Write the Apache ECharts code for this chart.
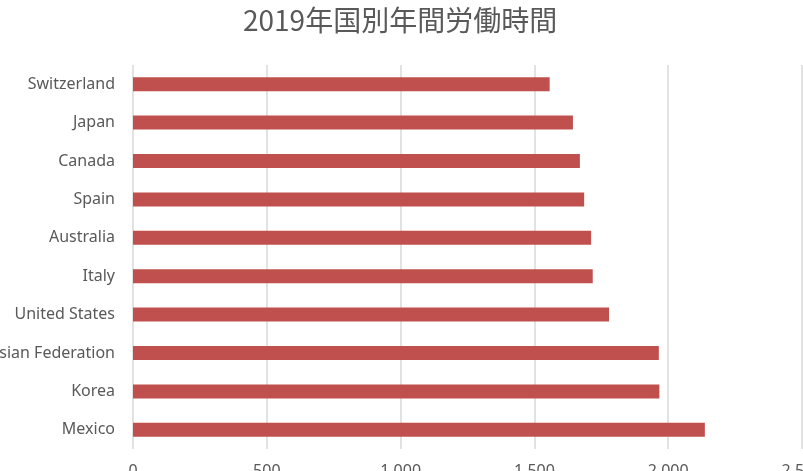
<!DOCTYPE html>
<html><head><meta charset="utf-8">
<script src="https://cdn.jsdelivr.net/npm/echarts@6/dist/echarts.min.js"></script>
<style>html,body{margin:0;padding:0;background:#fff}#c{width:803px;height:471px}</style>
</head><body><div id="c"></div>
<script>
const titleText = '2019年国別年間労働時間';
const countries = ['Switzerland','Japan','Canada','Spain','Australia','Italy','United States','Russian Federation','Korea','Mexico'];
const hours = [1557,1644,1670,1686,1712,1718,1779,1965,1967,2137];
const xTicks = [0,500,1000,1500,2000,2500];

const chart = echarts.init(document.getElementById('c'));
chart.setOption({
  animation:false,
  title:{text:titleText,left:238,top:1,textStyle:{fontFamily:'Noto Sans CJK JP',fontSize:28,fontWeight:'normal',color:'#595959'}},
  grid:{left:133,right:1,top:65,bottom:22,containLabel:false,outerBoundsMode:'none'},
  xAxis:{type:'value',min:xTicks[0],max:xTicks[xTicks.length-1],interval:xTicks[1]-xTicks[0],
    axisLine:{show:false},axisTick:{show:false},
    splitLine:{lineStyle:{color:'#d9d9d9',width:1.5}},
    axisLabel:{margin:14,color:'#595959',fontFamily:'Noto Sans',fontSize:16,
      formatter:v=>v.toLocaleString('en-US')}},
  yAxis:{type:'category',data:countries,inverse:true,
    axisLine:{show:false},axisTick:{show:false},
    axisLabel:{margin:18,color:'#595959',fontFamily:'Noto Sans',fontSize:16}},
  series:[{type:'bar',data:hours,barWidth:14,itemStyle:{color:'#C0504D'}}]
});
</script></body></html>
